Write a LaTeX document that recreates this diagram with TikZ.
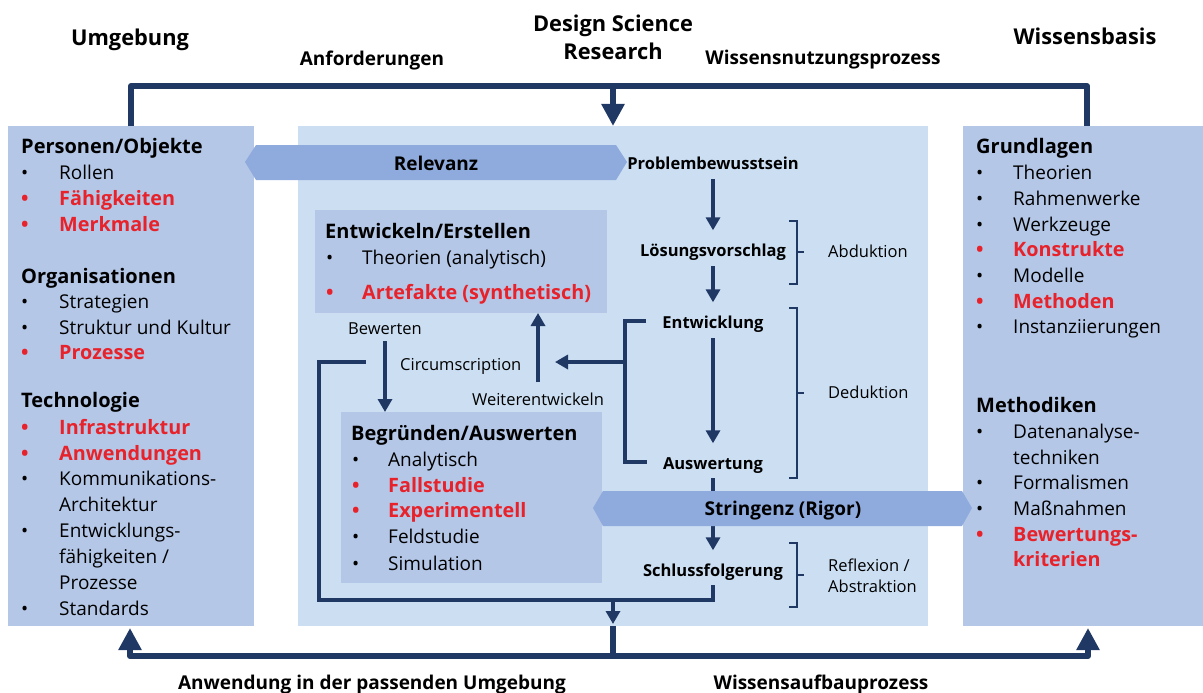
\documentclass[tikz,border=0pt]{standalone}
\usepackage{fontspec}
\setmainfont{Open Sans}
\usetikzlibrary{arrows.meta}

\definecolor{sidefill}{HTML}{B4C7E7}
\definecolor{corefill}{HTML}{CBDEF2}
\definecolor{bandfill}{HTML}{8FAADC}
\definecolor{navy}{HTML}{1F3864}
\definecolor{hl}{HTML}{E8222A}

\newcommand\pxfont[1]{\fontsize{#1}{#1}\selectfont}
% bulleted line: name, bullet x, text x, baseline y, style, text
\newcommand\listline[6]{%
  \node[bul,#5] (#1b) at (#2,#4) {\textbullet};
  \node[itm,#5] (#1) at (#3,#4) {#6};}
% continuation line without bullet: name, x, baseline y, style, text
\newcommand\contline[5]{\node[itm,#4] (#1) at (#2,#3) {#5};}

\tikzset{
  panel/.style={fill=sidefill, inner sep=0, outer sep=0, anchor=north west},
  corepanel/.style={fill=corefill, inner sep=0, outer sep=0, anchor=north west},
  band/.style={fill=bandfill},
  bul/.style={anchor=base west, inner sep=0, font=\pxfont{19}},
  itm/.style={anchor=base west, inner sep=0, font=\pxfont{19}},
  std/.style={},
  hi/.style={text=hl, font=\pxfont{19.8}\bfseries},
  hd/.style={anchor=base west, inner sep=0, font=\pxfont{20}\bfseries},
  title/.style={anchor=base, inner sep=0, font=\pxfont{21.8}\bfseries},
  linelabel/.style={anchor=base, inner sep=0, font=\pxfont{19}\bfseries},
  bandlabel/.style={anchor=base, inner sep=0, font=\pxfont{19}\bfseries},
  step label/.style={anchor=base, inner sep=0, text height=12pt, text depth=4pt, font=\pxfont{16.5}\bfseries},
  small/.style={anchor=base west, inner sep=0, font=\pxfont{16.5}},
  main/.style={draw=navy, line width=6pt, line join=round},
  bigtip/.style={-{Triangle[width=22pt,length=22pt]}},
  flow/.style={draw=navy, line width=4.5pt, line join=miter},
  flowtip/.style={-{Triangle[width=14pt,length=13pt]}},
  brace/.style={draw=navy, line width=1.4pt},
}

\begin{document}
\begin{tikzpicture}[x=1pt,y=-1pt]
\useasboundingbox (0,0) rectangle (1203,693);

% ---------- the three columns ----------
\node[panel, minimum width=246pt, minimum height=500pt] (env) at (8,126) {};
\node[corepanel, minimum width=630pt, minimum height=500pt] (dsr) at (298,126) {};
\node[panel, minimum width=240pt, minimum height=500pt] (kb) at (963,126) {};

% inner boxes of the research cycle
\node[panel, minimum width=292pt, minimum height=103pt] (build) at (315,210) {};
\node[panel, minimum width=261pt, minimum height=171pt] (eval) at (341,412) {};

% ---------- column titles and cycle labels ----------
\node[title] (t1) at (130,46) {Umgebung};
\node[title] (t2) at (613,32) {Design Science};
\node[title] (t3) at (613,60) {Research};
\node[title] (t4) at (1085,45) {Wissensbasis};
\node[linelabel] (req) at (372,66) {Anforderungen};
\node[linelabel] (use) at (823,65) {Wissensnutzungsprozess};
\node[linelabel] (app) at (372,689) {Anwendung in der passenden Umgebung};
\node[linelabel] (grow) at (821,689) {Wissensaufbauprozess};

% ---------- outer cycle ----------
\coordinate (topmid) at (613,86);
\coordinate (botmid) at (613,656);
\draw[main] (env.north) |- (topmid) -| ([xshift=4pt]kb.north);
\draw[main, bigtip] (topmid) -- (dsr.north);
\draw[main, bigtip, shorten >=2pt] (botmid) -| ([xshift=-1pt]env.south);
\draw[main, bigtip, shorten >=2pt] (botmid) -| ([xshift=5pt]kb.south);
\draw[main] (botmid) -- (dsr.south);

% ---------- relevance and rigor bands ----------
\fill[band] (245,162) -- (256,145) -- (616,145) -- (627,162) -- (616,180) -- (256,180) -- cycle;
\node[bandlabel] (rel) at (436,170) {Relevanz};

% ---------- process steps ----------
\node[step label] (pb) at (713,169) {Problembewusstsein};
\node[step label] (lv) at (713,256) {Lösungsvorschlag};
\node[step label] (ew) at (713,328) {Entwicklung};
\node[step label] (aw) at (713,469) {Auswertung};
\node[step label] (sf) at (713,576) {Schlussfolgerung};

\draw[flow, flowtip, shorten <=6pt, shorten >=13.5pt] (pb.south) -- (lv.north);
\draw[flow, flowtip, shorten <=6pt, shorten >=13.5pt] (lv.south) -- (ew.north);
\draw[flow, flowtip, shorten <=6pt, shorten >=13.5pt] (ew.south) -- (aw.north);
\draw[flow, flowtip, shorten <=5pt, shorten >=13.5pt] (aw.south) -- (sf.north);

% feedback loop back to the build/evaluate boxes
\coordinate (loopmid) at (613,600);
\coordinate (loopend) at (366,362);
\draw[flow, shorten <=5pt] (sf.south) |- (319,600) |- (loopend);
\draw[flow, flowtip, shorten >=2pt] (loopmid) -- (dsr.south);

% development / evaluation fork
\coordinate (fork) at (625,362);
\coordinate (forkend) at (555,362);
\draw[flow] ([xshift=-16pt,yshift=3pt]ew.west) -| (fork) |- ([xshift=-16pt,yshift=3pt]aw.west);
\draw[flow, flowtip] (fork) -- (forkend);

% labels and arrows between the two boxes
\node[small, anchor=base] (bew) at (385,334) {Bewerten};
\node[small] (circ) at (400,370) {Circumscription};
\node[small, anchor=base] (wtw) at (538,405) {Weiterentwickeln};
\draw[flow, flowtip, shorten <=7pt] (bew.south) -- (bew.south |- eval.north);
\draw[flow, flowtip, shorten <=10pt] (wtw.north) -- (wtw.north |- build.south);

% rigor band on top of the step arrow
\fill[band] (593,508) -- (603,491) -- (962,491) -- (972,508) -- (962,526) -- (603,526) -- cycle;
\node[bandlabel] (rig) at (783,515) {Stringenz (Rigor)};

% ---------- reasoning brackets ----------
\draw[brace] (789,221) -- (797,221) -- (797,284) -- (789,284) (797,252) -- (804,252);
\draw[brace] (789,308) -- (797,308) -- (797,478) -- (789,478) (797,393) -- (804,393);
\draw[brace] (789,543) -- (797,543) -- (797,607) -- (789,607) (797,575) -- (804,575);
\node[small] (abd) at (828,257) {Abduktion};
\node[small] (ded) at (828,398) {Deduktion};
\node[small] (ref1) at (828,571) {Reflexion /};
\node[small] (ref2) at (828,592) {Abstraktion};

% ---------- environment column ----------
\node[hd] (u0) at (21,153) {Personen/Objekte};
\listline{u1}{21}{59}{179}{std}{Rollen}
\listline{u2}{21}{59}{205}{hi}{Fähigkeiten}
\listline{u3}{21}{59}{231}{hi}{Merkmale}
\node[hd] (u4) at (21,283) {Organisationen};
\listline{u5}{21}{59}{308}{std}{Strategien}
\listline{u6}{21}{59}{334}{std}{Struktur und Kultur}
\listline{u7}{21}{59}{359}{hi}{Prozesse}
\node[hd] (u8) at (21,407) {Technologie};
\listline{u9}{21}{59}{434}{hi}{Infrastruktur}
\listline{u10}{21}{59}{460}{hi}{Anwendungen}
\listline{u11}{21}{59}{485}{std}{Kommunikations-}
\contline{u12}{59}{511}{std}{Architektur}
\listline{u13}{21}{59}{537}{std}{Entwicklungs-}
\contline{u14}{59}{563}{std}{fähigkeiten /}
\contline{u15}{59}{589}{std}{Prozesse}
\listline{u16}{21}{59}{615}{std}{Standards}

% ---------- knowledge base column ----------
\node[hd] (k0) at (976,153) {Grundlagen};
\listline{k1}{976}{1013}{179}{std}{Theorien}
\listline{k2}{976}{1013}{205}{std}{Rahmenwerke}
\listline{k3}{976}{1013}{231}{std}{Werkzeuge}
\listline{k4}{976}{1013}{256}{hi}{Konstrukte}
\listline{k5}{976}{1013}{282}{std}{Modelle}
\listline{k6}{976}{1013}{308}{hi}{Methoden}
\listline{k7}{976}{1013}{333}{std}{Instanziierungen}
\node[hd] (k8) at (976,412) {Methodiken};
\listline{k9}{976}{1013}{438}{std}{Datenanalyse-}
\contline{k10}{1013}{464}{std}{techniken}
\listline{k11}{976}{1013}{489}{std}{Formalismen}
\listline{k12}{976}{1013}{515}{std}{Maßnahmen}
\listline{k13}{976}{1013}{541}{hi}{Bewertungs-}
\contline{k14}{1013}{566}{hi}{kriterien}

% ---------- build and evaluate boxes ----------
\node[hd] (b0) at (325,238) {Entwickeln/Erstellen};
\listline{b1}{326}{362}{264}{std}{Theorien (analytisch)}
\listline{b2}{326}{362}{299}{hi}{Artefakte (synthetisch)}
\node[hd] (e0) at (351,440) {Begründen/Auswerten};
\listline{e1}{352}{388}{466}{std}{Analytisch}
\listline{e2}{352}{388}{492}{hi}{Fallstudie}
\listline{e3}{352}{388}{517}{hi}{Experimentell}
\listline{e4}{352}{388}{543}{std}{Feldstudie}
\listline{e5}{352}{388}{570}{std}{Simulation}
\end{tikzpicture}
\end{document}
